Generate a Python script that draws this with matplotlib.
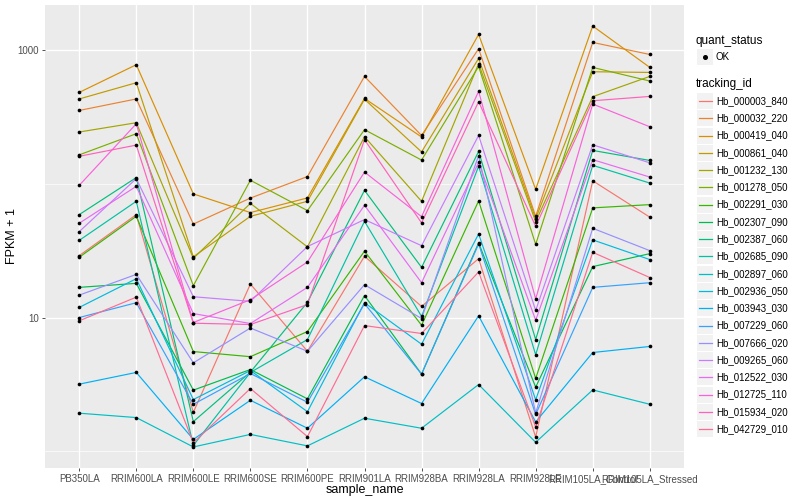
import numpy as np
import matplotlib
matplotlib.use("Agg")
import matplotlib.pyplot as plt
from matplotlib.ticker import FixedLocator, NullFormatter
from matplotlib.lines import Line2D
from matplotlib.patches import Rectangle

plt.rcParams['font.family'] = ['Liberation Sans', 'DejaVu Sans']

# ---- data (FPKM + 1) ----
samples = ["PB350LA", "RRIM600LA", "RRIM600LE", "RRIM600SE", "RRIM600PE",
           "RRIM901LA", "RRIM928BA", "RRIM928LA", "RRIM928LE",
           "RRIM105LA_Control", "RRIM105LA_Stressed"]

hb_000003_840 = [29.0, 58.7, 1.96, 17.8, 5.60, 28.7, 12.1, 27.5, 1.28, 105, 56.2]
hb_000032_220 = [352, 429, 49.9, 78, 113, 632, 229, 1017, 57, 1134, 922]
hb_000419_040 = [480, 773, 83.8, 60.8, 78.2, 433, 223, 1301, 90.7, 1503, 738]
hb_000861_040 = [429, 567, 28.4, 57, 73.8, 427, 172.5, 861, 54.8, 685, 677]
hb_001232_130 = [243, 285, 27.7, 71.2, 33.7, 224, 73.8, 786, 52, 446, 632]
hb_001278_050 = [164, 236, 17.3, 106, 62.9, 253, 150, 750, 35.2, 738, 584]
hb_002291_030 = [28.2, 57, 5.57, 5.10, 7.86, 31.3, 8.76, 74.3, 3.51, 65.9, 69.7]
hb_002307_090 = [16.8, 18.0, 2.87, 4.09, 2.47, 14.6, 3.78, 36.1, 3.02, 24.0, 30.0]
hb_002387_060 = [58.7, 111, 1.67, 3.91, 13.0, 89.1, 23.7, 174, 6.85, 177, 149]
hb_002685_090 = [37.7, 73.8, 1.11, 3.89, 6.85, 52.3, 10.2, 135, 5.27, 137, 101]
hb_002897_060 = [1.93, 1.79, 1.08, 1.34, 1.10, 1.77, 1.49, 3.16, 1.17, 2.88, 2.25]
hb_002936_050 = [11.9, 19.5, 2.44, 4.02, 1.98, 12.9, 6.32, 42.1, 2.43, 38.0, 27.1]
hb_003943_030 = [3.18, 3.89, 1.23, 2.41, 1.49, 3.61, 2.28, 10.3, 1.66, 5.48, 6.08]
hb_007229_060 = [10.0, 12.9, 2.25, 3.82, 2.33, 12.7, 3.78, 35.4, 1.89, 16.8, 18.2]
hb_007666_020 = [14.7, 21.0, 4.59, 8.35, 5.60, 17.6, 9.83, 162, 1.94, 46.4, 31.6]
hb_009265_060 = [43.8, 109, 14.3, 13.2, 33.9, 53.9, 34.4, 229, 11.3, 195, 143]
hb_012522_030 = [50.6, 95.5, 10.7, 9.02, 16.8, 68.9, 18.2, 144, 9.55, 151, 112]
hb_012725_110 = [97.1, 280, 9.18, 13.6, 26.0, 122, 56.7, 489, 13.8, 393, 266]
hb_015934_020 = [160, 194, 9.07, 8.87, 12.5, 213, 50.9, 409, 48, 416, 448]
hb_042729_010 = [9.45, 14.2, 1.16, 2.95, 1.29, 8.71, 7.60, 21.9, 1.52, 30.7, 19.9]

tracking_ids = ["Hb_000003_840", "Hb_000032_220", "Hb_000419_040", "Hb_000861_040",
                "Hb_001232_130", "Hb_001278_050", "Hb_002291_030", "Hb_002307_090",
                "Hb_002387_060", "Hb_002685_090", "Hb_002897_060", "Hb_002936_050",
                "Hb_003943_030", "Hb_007229_060", "Hb_007666_020", "Hb_009265_060",
                "Hb_012522_030", "Hb_012725_110", "Hb_015934_020", "Hb_042729_010"]
series = [hb_000003_840, hb_000032_220, hb_000419_040, hb_000861_040,
          hb_001232_130, hb_001278_050, hb_002291_030, hb_002307_090,
          hb_002387_060, hb_002685_090, hb_002897_060, hb_002936_050,
          hb_003943_030, hb_007229_060, hb_007666_020, hb_009265_060,
          hb_012522_030, hb_012725_110, hb_015934_020, hb_042729_010]

# ggplot2 default hue palette for 20 levels
colors = ["#F8766D", "#EA8331", "#D89000", "#C09B00", "#A3A500", "#7CAE00",
          "#39B600", "#00BB4E", "#00BF7D", "#00C1A3", "#00BFC4", "#00BAE0",
          "#00B0F6", "#35A2FF", "#9590FF", "#C77CFF", "#E76BF3", "#FA62DB",
          "#FF62BC", "#FF6C91"]

# ---- figure ----
fig = plt.figure(figsize=(8, 5), dpi=100)
ax = fig.add_axes([45 / 800, 32 / 500, 639 / 800, 463 / 500])
ax.set_facecolor("#EBEBEB")
for s in ax.spines.values():
    s.set_visible(False)

x = np.arange(len(samples))
for vals, col in zip(series, colors):
    ax.plot(x, vals, color=col, lw=0.85, zorder=2)
for vals in series:
    ax.scatter(x, vals, s=7, color="black", zorder=3, linewidths=0)

ax.set_yscale("log")
allv = np.log10(np.concatenate([np.array(v, dtype=float) for v in series]))
lo, hi = allv.min(), allv.max()
pad = (hi - lo) * 0.05
ax.set_ylim(10 ** (lo - pad), 10 ** (hi + pad))
ax.set_xlim(-0.6, len(samples) - 0.4)

ax.yaxis.set_major_locator(FixedLocator([10, 1000]))
ax.yaxis.set_minor_locator(FixedLocator([1, 100]))
ax.yaxis.set_minor_formatter(NullFormatter())
ax.set_yticklabels(["10", "1000"])
ax.set_xticks(x)
ax.set_xticklabels(samples)

ax.grid(which="major", color="white", lw=1.0, zorder=0)
ax.grid(which="minor", axis="y", color="white", lw=0.5, zorder=0)
ax.set_axisbelow(True)

ax.tick_params(which="major", length=2.5, width=0.6, color="#333333",
               labelsize=7, labelcolor="#4D4D4D", pad=2)
ax.tick_params(which="minor", length=0)

ax.set_xlabel("sample_name", fontsize=9)
ax.set_ylabel("FPKM + 1", fontsize=9)
ax.xaxis.set_label_coords(0.5, -0.034)
ax.yaxis.set_label_coords(-0.043, 0.5)

# ---- legends (drawn by hand, ggplot style) ----
def fx(px):
    return px / 800

def fy(py):
    return 1 - py / 500

fig.text(fx(696), fy(41), "quant_status", fontsize=8.5, va="center", ha="left")
fig.add_artist(Rectangle((fx(697), fy(65)), 16 / 800, 16 / 500,
                         facecolor="#F2F2F2", edgecolor="none"))
fig.add_artist(Line2D([fx(705)], [fy(57)], marker="o", markersize=2.6,
                      color="black", linestyle="none"))
fig.text(fx(716), fy(57), "OK", fontsize=7, va="center", ha="left")

fig.text(fx(696), fy(84), "tracking_id", fontsize=8.5, va="center", ha="left")
row_h = 17.27
for i, (tid, col) in enumerate(zip(tracking_ids, colors)):
    yc = 101 + i * row_h
    fig.add_artist(Rectangle((fx(697), fy(yc + 8)), 16 / 800, 16 / 500,
                             facecolor="#F2F2F2", edgecolor="none"))
    fig.add_artist(Line2D([fx(698.5), fx(711.5)], [fy(yc), fy(yc)],
                          color=col, lw=0.9))
    fig.text(fx(716), fy(yc), tid, fontsize=7, va="center", ha="left")

fig.savefig("out.png", dpi=100)
